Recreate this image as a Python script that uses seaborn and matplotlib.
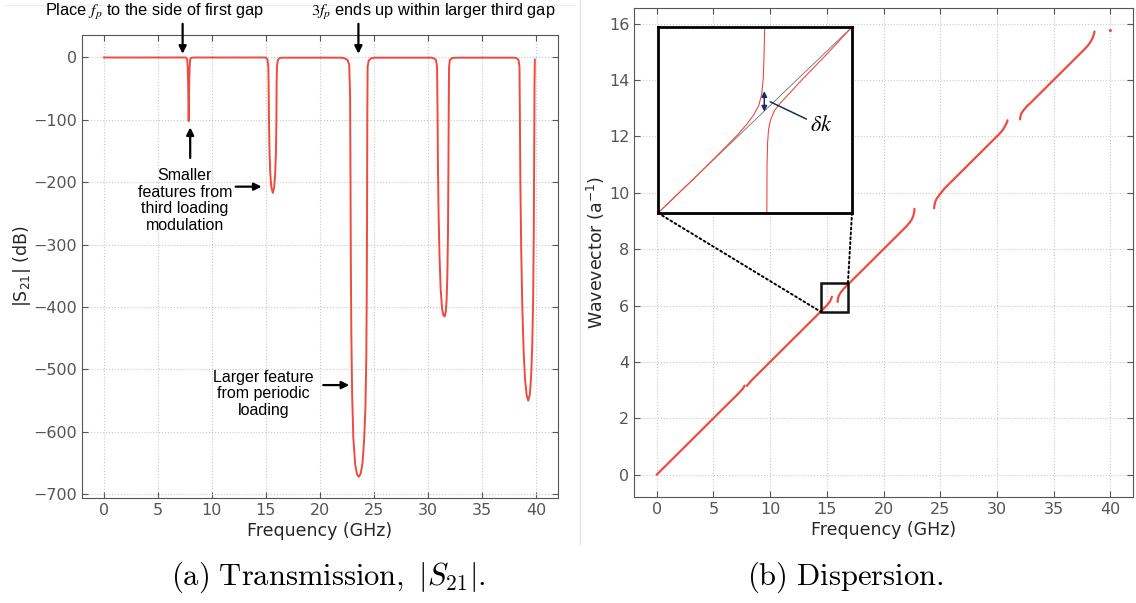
import matplotlib
matplotlib.use("Agg")
import matplotlib.pyplot as plt
import pandas as pd
import seaborn as sns
from matplotlib.patches import Rectangle, ConnectionPatch
from matplotlib.lines import Line2D

# ---------------- transmission |S21| (GHz, dB) ----------------
freq_ghz = [
    0.0, 7.55,
    7.65, 7.72, 7.77, 7.81, 7.84, 7.86, 7.88, 7.91, 7.95, 8.0, 8.08,
    8.3, 14.9, 15.05, 15.15, 15.22,
    15.25, 15.28, 15.33, 15.4, 15.5, 15.64, 15.76, 15.86, 15.93, 15.97, 15.99, 16.02, 16.1, 16.25, 16.5,
    22.0, 22.3, 22.55, 22.7,
    22.78, 22.82, 22.85, 22.9, 22.97, 23.08, 23.25, 23.42, 23.59, 23.76, 23.93, 24.08, 24.2, 24.28,
    24.32, 24.35, 24.37, 24.4, 24.5, 24.7, 25.0,
    30.3, 30.55, 30.72, 30.82,
    30.86, 30.9, 30.96, 31.05, 31.15, 31.28, 31.4, 31.52, 31.62, 31.7, 31.77, 31.83, 31.87, 31.9,
    31.93, 32.0, 32.2, 32.5,
    38.0, 38.2, 38.35, 38.44,
    38.47, 38.52, 38.6, 38.7, 38.82, 38.95, 39.1, 39.25, 39.4, 39.52, 39.62, 39.7, 39.76, 39.8,
    39.83, 39.86,
]
s21_db = [
    0.0, 0.0,
    -0.5, -3, -15, -40, -80, -102, -80, -40, -15, -3, -0.5,
    0.0, 0.0, -1, -4, -15,
    -40, -100, -150, -185, -208, -217, -208, -185, -150, -100, -40, -15, -4, -1, -0.3,
    -0.3, -1.5, -4, -12,
    -60, -200, -330, -450, -540, -610, -652, -668, -672, -667, -650, -612, -560, -480,
    -380, -250, -100, -15, -5, -1.5, -0.3,
    -0.3, -1.5, -4, -15,
    -80, -170, -250, -320, -370, -402, -413, -415, -408, -390, -350, -280, -180, -80,
    -15, -4, -1, -0.3,
    -0.3, -1.5, -4, -15,
    -80, -200, -310, -400, -470, -515, -541, -550, -540, -510, -460, -390, -280, -150,
    -40, -3,
]

# ---------------- dispersion branches (GHz, 1/a) ----------------
disp_freq = [
    0.0, 7.3, 7.6, 7.75,
    7.95, 8.3, 15.0, 15.3, 15.45,
    15.95, 15.98, 16.05, 16.2, 16.5, 16.9, 22.0, 22.3, 22.5, 22.62, 22.7, 22.73,
    24.46, 24.49, 24.56, 24.7, 25.0, 25.4, 30.2, 30.5, 30.7, 30.82, 30.9, 30.93,
    32.04, 32.07, 32.14, 32.3, 32.6, 33.0, 37.8, 38.1, 38.3, 38.45, 38.55, 38.6,
]
disp_k = [
    0.0, 2.92, 3.05, 3.16,
    3.15, 3.32, 6.0, 6.16, 6.31,
    6.13, 6.24, 6.34, 6.45, 6.6, 6.76, 8.8, 8.94, 9.06, 9.17, 9.3, 9.43,
    9.45, 9.56, 9.68, 9.8, 9.96, 10.16, 12.08, 12.22, 12.35, 12.45, 12.52, 12.57,
    12.6, 12.7, 12.8, 12.9, 13.05, 13.2, 15.12, 15.26, 15.38, 15.5, 15.62, 15.72,
]
disp_branch = [1] * 4 + [2] * 5 + [3] * 12 + [4] * 12 + [5] * 12
end_freq = [40.0]
end_k = [15.75]

# ---------------- inset: anticrossing sketch (axes fractions) ----------------
light_line_x = [0.0, 1.0]
light_line_y = [0.0, 1.0]
upper_x = [0.0, 0.2, 0.33, 0.41, 0.46, 0.495, 0.52, 0.535, 0.543, 0.547, 0.55]
upper_y = [0.0, 0.2, 0.335, 0.42, 0.48, 0.53, 0.58, 0.64, 0.73, 0.86, 1.0]
lower_x = [0.561, 0.562, 0.565, 0.57, 0.58, 0.6, 0.63, 0.67, 0.75, 0.88, 1.0]
lower_y = [0.0, 0.25, 0.38, 0.45, 0.5, 0.55, 0.59, 0.635, 0.725, 0.865, 1.0]

x_ticks = [0, 5, 10, 15, 20, 25, 30, 35, 40]
s21_ticks = [0, -100, -200, -300, -400, -500, -600, -700]
k_ticks = [0, 2, 4, 6, 8, 10, 12, 14, 16]

RED = "#f04a3e"
NAVY = "#1d2d5c"
TEXT = "#262626"

sns.set_style("ticks", rc={
    "axes.grid": True,
    "grid.linestyle": ":",
    "grid.color": "#c8c8c8",
    "grid.linewidth": 0.9,
    "axes.edgecolor": "#555555",
    "axes.linewidth": 1.0,
    "xtick.direction": "in",
    "ytick.direction": "in",
    "xtick.top": True,
    "ytick.right": True,
    "xtick.color": "#555555",
    "ytick.color": "#555555",
    "xtick.labelcolor": TEXT,
    "ytick.labelcolor": TEXT,
})
plt.rcParams["font.family"] = ["DejaVu Sans"]
plt.rcParams["mathtext.fontset"] = "dejavusans"

fig = plt.figure(figsize=(11.36, 6.03), dpi=100)
ax1 = fig.add_axes([0.0722, 0.1741, 0.419, 0.7678])
ax2 = fig.add_axes([0.5581, 0.1758, 0.4393, 0.8109])

# ---------------- panel (a): transmission ----------------
s21 = pd.DataFrame({"Frequency": freq_ghz, "S21": s21_db})
sns.lineplot(data=s21, x="Frequency", y="S21", ax=ax1, color=RED, lw=1.4, sort=False)
ax1.set_xlim(-2, 42)
ax1.set_ylim(-706, 36)
ax1.set_xticks(x_ticks)
ax1.set_yticks(s21_ticks)
ax1.set_xlabel("Frequency (GHz)", fontsize=12.5, color=TEXT, labelpad=3)
ax1.set_ylabel(r"|S$_{21}$| (dB)", fontsize=12.5, color=TEXT, labelpad=0)
ax1.tick_params(labelsize=11.5, length=4, width=0.8)

top_font = dict(family=["Liberation Sans", "DejaVu Sans"], fontsize=11.8, color="black")
ann_font = dict(family=["Liberation Sans", "DejaVu Sans"], fontsize=11.5, color="black")
arrow = dict(arrowstyle="-|>", color="black", lw=1.6, mutation_scale=11, shrinkA=0, shrinkB=0)

fig.text(154 / 1136, 1 - 12 / 603, r"Place $f_p$ to the side of first gap",
         ha="center", va="center", math_fontfamily="stix", **top_font)
fig.text(433 / 1136, 1 - 12 / 603, r"$3f_p$ ends up within larger third gap",
         ha="center", va="center", math_fontfamily="stix", **top_font)
ax1.annotate("", xy=(7.3, 6), xytext=(7.3, 54), arrowprops=arrow, annotation_clip=False)
ax1.annotate("", xy=(23.55, 6), xytext=(23.55, 54), arrowprops=arrow, annotation_clip=False)

ax1.text(7.5, -229, "Smaller\nfeatures from\nthird loading\nmodulation",
         ha="center", va="center", linespacing=1.12, **ann_font)
ax1.annotate("", xy=(8.0, -112), xytext=(8.0, -161), arrowprops=arrow)
ax1.annotate("", xy=(14.6, -207), xytext=(12.2, -207), arrowprops=arrow)

ax1.text(14.8, -539, "Larger feature\nfrom periodic\nloading",
         ha="center", va="center", linespacing=1.12, **ann_font)
ax1.annotate("", xy=(22.7, -525), xytext=(20.3, -525), arrowprops=arrow)

# ---------------- panel (b): dispersion ----------------
disp = pd.DataFrame({"Frequency": disp_freq, "k": disp_k, "branch": disp_branch})
sns.lineplot(data=disp, x="Frequency", y="k", units="branch", estimator=None,
             ax=ax2, color=RED, lw=1.6, sort=False)
sns.scatterplot(x=end_freq, y=end_k, ax=ax2, color=RED, s=5, edgecolor="none")
ax2.set_xlim(-2, 42)
ax2.set_ylim(-0.79, 16.55)
ax2.set_xticks(x_ticks)
ax2.set_yticks(k_ticks)
ax2.set_xlabel("Frequency (GHz)", fontsize=12.5, color=TEXT, labelpad=3)
ax2.set_ylabel(r"Wavevector (a$^{-1}$)", fontsize=12.5, color=TEXT, labelpad=1)
ax2.tick_params(labelsize=11.5, length=4, width=0.8)

# zoom box on the main curve
box_x0, box_x1, box_y0, box_y1 = 14.5, 16.86, 5.77, 6.79
ax2.add_patch(Rectangle((box_x0, box_y0), box_x1 - box_x0, box_y1 - box_y0,
                        fill=False, ec="#111111", lw=1.8, zorder=5))

# inset sketch
axin = fig.add_axes([658 / 1136, 1 - 213 / 603, 194 / 1136, 186 / 603])
axin.set_facecolor("white")
axin.plot(light_line_x, light_line_y, color="#6f6f6f", lw=0.6)
axin.plot(upper_x, upper_y, color=RED, lw=0.8)
axin.plot(lower_x, lower_y, color=RED, lw=0.8)
axin.set_xlim(0, 1)
axin.set_ylim(0, 1)
axin.set_xticks([])
axin.set_yticks([])
axin.grid(False)
for sp in axin.spines.values():
    sp.set_color("black")
    sp.set_linewidth(2.0)
axin.annotate("", xy=(0.548, 0.655), xytext=(0.548, 0.545),
              arrowprops=dict(arrowstyle="<|-|>", color=NAVY, lw=1.1, mutation_scale=8,
                              shrinkA=0, shrinkB=0))
axin.add_line(Line2D([0.578, 0.765], [0.598, 0.505], color=NAVY, lw=1.1))
axin.text(0.785, 0.475, r"$\delta k$", fontsize=16, ha="left", va="center",
          math_fontfamily="stix", color="black")

# dotted connectors from inset corners to the zoom box
for (xa, ya), (xb, yb) in [((0, 0), (box_x0, box_y0)), ((1, 0), (box_x1, box_y1))]:
    con = ConnectionPatch(xyA=(xa, ya), coordsA=axin.transAxes,
                          xyB=(xb, yb), coordsB=ax2.transData,
                          linestyle=(0, (1, 1.5)), color="black", lw=1.4)
    fig.add_artist(con)

# ---------------- captions and panel divider ----------------
cap = dict(fontsize=22, ha="center", va="center", color="black", math_fontfamily="cm")
fig.text(328 / 1136, 1 - 577 / 603, r"$\mathrm{(a)\ Transmission,}\ |S_{21}|.$", **cap)
fig.text(845 / 1136, 1 - 577 / 603, r"$\mathrm{(b)\ Dispersion.}$", **cap)
fig.add_artist(Line2D([580 / 1136, 580 / 1136], [1 - 545 / 603, 1.0],
                      transform=fig.transFigure, color="#e2e2e2", lw=0.8))
fig.add_artist(Line2D([5 / 1136, 575 / 1136], [1 - 5 / 603, 1 - 5 / 603],
                      transform=fig.transFigure, color="#ededed", lw=0.8))

fig.savefig("out.png", dpi=100, facecolor="white")
